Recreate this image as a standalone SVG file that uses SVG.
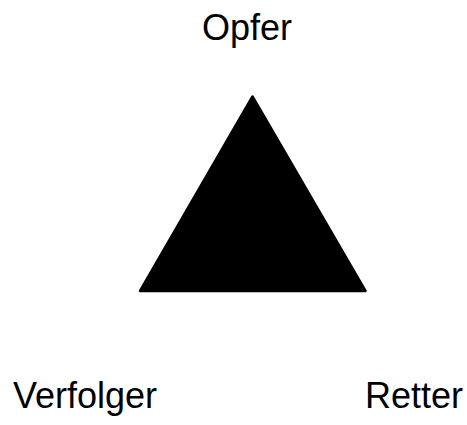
<svg xmlns="http://www.w3.org/2000/svg" width="467" height="425" viewBox="0 0 467 425">
<style>
.lbl{font-family:"Liberation Sans",Arial,sans-serif;font-size:36px;fill:#000}
</style>
<rect width="467" height="425" fill="#fff"/>
<g id="triangle">
<polygon points="252.5,96.5 140,291 365.5,291" fill="#000" stroke="#000" stroke-width="2.5" stroke-linejoin="round"/>
</g>
<g id="opfer"><text class="lbl" x="202" y="40">Opfer</text></g>
<g id="verfolger"><text class="lbl" x="13" y="408">Verfolger</text></g>
<g id="retter"><text class="lbl" x="365" y="408">Retter</text></g>
</svg>
